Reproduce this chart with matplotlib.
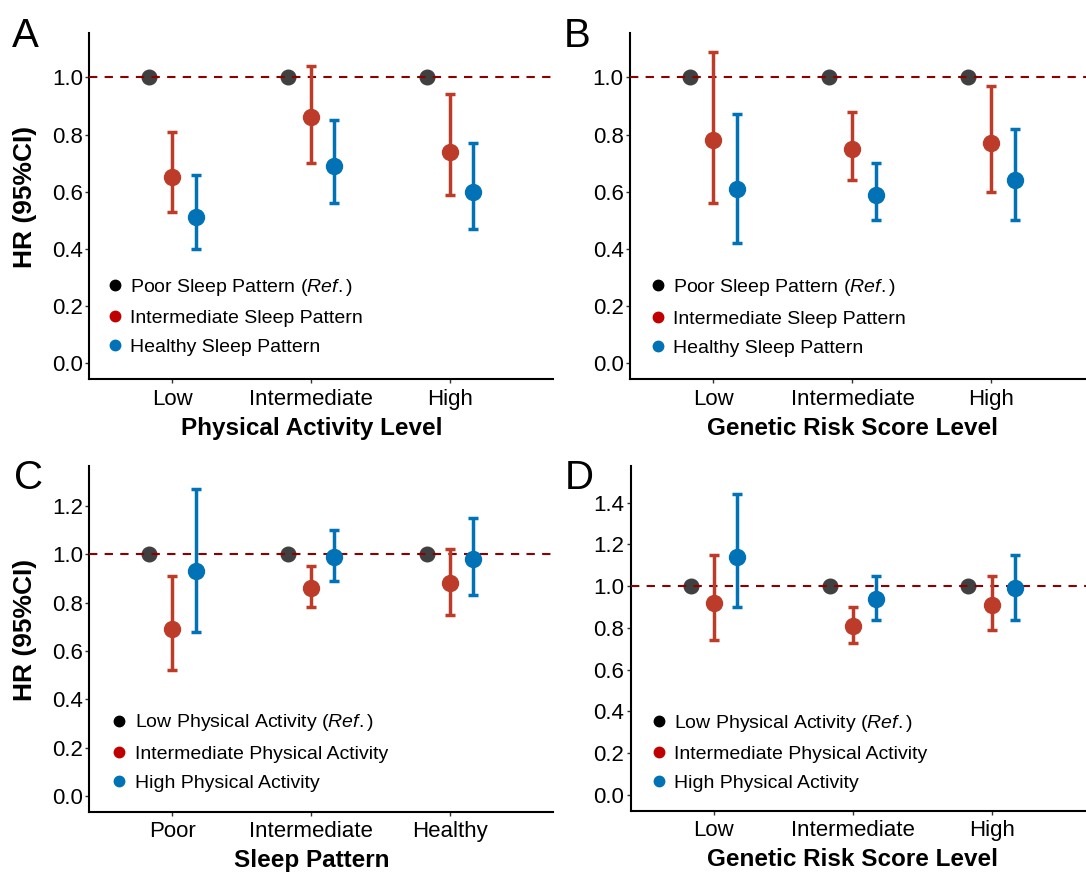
import matplotlib
matplotlib.use('Agg')
import matplotlib.pyplot as plt
from matplotlib.lines import Line2D
import numpy as np

plt.rcParams['font.family'] = ['Liberation Sans', 'DejaVu Sans']
plt.rcParams['mathtext.fontset'] = 'custom'
plt.rcParams['mathtext.rm'] = 'Liberation Sans'
plt.rcParams['mathtext.it'] = 'Liberation Sans:italic'

# ---- data ----
# A: physical activity level x sleep pattern
a_cats = ['Low', 'Intermediate', 'High']
a_ref = [1.0, 1.0, 1.0]
a_mid = [0.65, 0.86, 0.74]
a_mid_lo = [0.53, 0.70, 0.59]
a_mid_hi = [0.81, 1.04, 0.94]
a_top = [0.51, 0.69, 0.60]
a_top_lo = [0.40, 0.56, 0.47]
a_top_hi = [0.66, 0.85, 0.77]

# B: genetic risk score level x sleep pattern
b_cats = ['Low', 'Intermediate', 'High']
b_ref = [1.0, 1.0, 1.0]
b_mid = [0.78, 0.75, 0.77]
b_mid_lo = [0.56, 0.64, 0.60]
b_mid_hi = [1.09, 0.88, 0.97]
b_top = [0.61, 0.59, 0.64]
b_top_lo = [0.42, 0.50, 0.50]
b_top_hi = [0.87, 0.70, 0.82]

# C: sleep pattern x physical activity
c_cats = ['Poor', 'Intermediate', 'Healthy']
c_ref = [1.0, 1.0, 1.0]
c_mid = [0.69, 0.86, 0.88]
c_mid_lo = [0.52, 0.78, 0.75]
c_mid_hi = [0.91, 0.95, 1.02]
c_top = [0.93, 0.99, 0.98]
c_top_lo = [0.68, 0.89, 0.83]
c_top_hi = [1.27, 1.10, 1.15]

# D: genetic risk score level x physical activity
d_cats = ['Low', 'Intermediate', 'High']
d_ref = [1.0, 1.0, 1.0]
d_mid = [0.92, 0.81, 0.91]
d_mid_lo = [0.74, 0.73, 0.79]
d_mid_hi = [1.15, 0.90, 1.05]
d_top = [1.14, 0.94, 0.99]
d_top_lo = [0.90, 0.84, 0.84]
d_top_hi = [1.44, 1.05, 1.15]

sleep_labels = ['Poor Sleep Pattern ($\\mathit{Ref.}$)',
                'Intermediate Sleep Pattern',
                'Healthy Sleep Pattern']
pa_labels = ['Low Physical Activity ($\\mathit{Ref.}$)',
             'Intermediate Physical Activity',
             'High Physical Activity']

REF_COL = '#404040'
RED = '#BC3C29'
BLUE = '#0072B5'
LEG_COLS = ['#000000', '#C00000', '#0072B5']

W, H = 1086, 877
fig = plt.figure(figsize=(W / 100, H / 100), dpi=100)


def px_axes(left, top, right, bottom):
    return fig.add_axes([left / W, 1 - bottom / H, (right - left) / W,
                         (bottom - top) / H])


def plot_panel(ax, cats, ref, mid, mid_lo, mid_hi, top, top_lo, top_hi,
               labels, xlabel, ylim, yticks, xmax, leg_xy, show_ylabel):
    x = np.arange(1, len(cats) + 1)
    dodge = 0.5 / 3
    ax.plot(x - dodge, ref, 'o', color=REF_COL, ms=10.5, zorder=2)
    ax.axhline(1.0, color='#8B0000', lw=1.5, dashes=(4, 3.5), zorder=3)
    for off, hr, lo, hi, col in [(0, mid, mid_lo, mid_hi, RED),
                                 (dodge, top, top_lo, top_hi, BLUE)]:
        hr = np.array(hr)
        ax.errorbar(x + off, hr, yerr=[hr - np.array(lo), np.array(hi) - hr],
                    fmt='o', color=col, ms=11.5, elinewidth=2.5,
                    capsize=3.5, capthick=2.5, zorder=4)
    ax.set_xlim(0.4, xmax)
    ax.set_ylim(*ylim)
    ax.set_xticks(x)
    ax.set_xticklabels(cats)
    ax.set_yticks(yticks)
    ax.set_yticklabels(['%.1f' % t for t in yticks])
    for s in ['top', 'right']:
        ax.spines[s].set_visible(False)
    for s in ['left', 'bottom']:
        ax.spines[s].set_linewidth(1.5)
    ax.tick_params(axis='both', labelsize=16, length=3, width=1,
                   color='#333333', labelcolor='black')
    ax.tick_params(axis='x', pad=4)
    ax.tick_params(axis='y', pad=1.5)
    ax.set_xlabel(xlabel, fontsize=17.5, fontweight='bold')
    ax.xaxis.set_label_coords((2 - 0.4) / (xmax - 0.4), -0.142)
    ax.xaxis.label.set_va('center')
    if show_ylabel:
        ax.set_ylabel('HR (95%CI)', fontsize=19, fontweight='bold')
        ax.yaxis.set_label_coords(-0.138, 0.525)
        ax.yaxis.label.set_va('center')
    handles = [Line2D([], [], marker='o', ls='', color=c, ms=7.5)
               for c in LEG_COLS]
    ax.legend(handles, labels, loc='lower left', bbox_to_anchor=leg_xy,
              frameon=False, fontsize=14, handlelength=0.6,
              handletextpad=0.5, labelspacing=0.6, borderpad=0,
              borderaxespad=0)


ax_a = px_axes(89, 33, 553, 379)
ax_b = px_axes(630, 33, 1086, 379)
ax_c = px_axes(89, 466, 553, 811.7)
ax_d = px_axes(630.7, 466, 1086, 810.7)

plot_panel(ax_a, a_cats, a_ref, a_mid, a_mid_lo, a_mid_hi, a_top, a_top_lo,
           a_top_hi, sleep_labels, 'Physical Activity Level',
           (-0.055, 1.155), np.arange(0, 1.01, 0.2), 3.74, (0.043, 0.066),
           True)
plot_panel(ax_b, b_cats, b_ref, b_mid, b_mid_lo, b_mid_hi, b_top, b_top_lo,
           b_top_hi, sleep_labels, 'Genetic Risk Score Level',
           (-0.055, 1.155), np.arange(0, 1.01, 0.2), 3.68, (0.048, 0.064),
           False)
plot_panel(ax_c, c_cats, c_ref, c_mid, c_mid_lo, c_mid_hi, c_top, c_top_lo,
           c_top_hi, pa_labels, 'Sleep Pattern',
           (-0.065, 1.365), np.arange(0, 1.21, 0.2), 3.74, (0.052, 0.057),
           True)
plot_panel(ax_d, d_cats, d_ref, d_mid, d_mid_lo, d_mid_hi, d_top, d_top_lo,
           d_top_hi, pa_labels, 'Genetic Risk Score Level',
           (-0.075, 1.575), np.arange(0, 1.41, 0.2), 3.68, (0.049, 0.054),
           False)

for letter, x0, y0 in [('A', 12, 47), ('B', 564, 47), ('C', 14, 489),
                       ('D', 565, 489)]:
    fig.text(x0 / W, 1 - y0 / H, letter, fontsize=29, va='baseline',
             ha='left')

fig.savefig('out.png', dpi=100)
